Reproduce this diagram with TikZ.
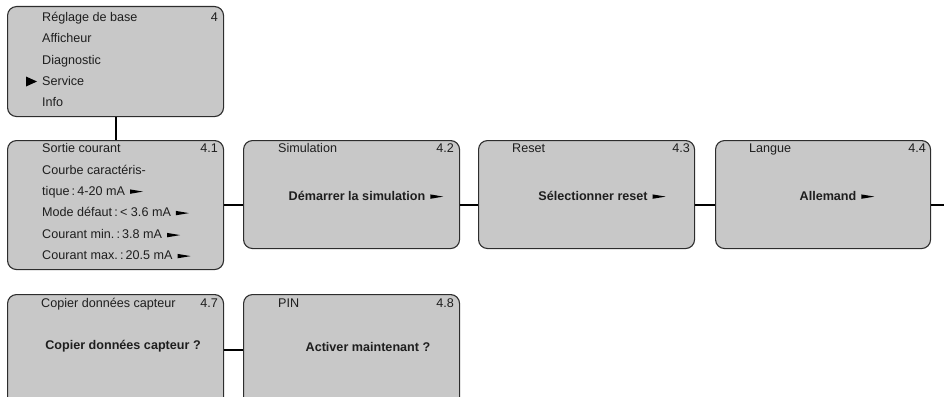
\documentclass[tikz,border=0pt]{standalone}
\usepackage{fontspec}
\setmainfont{Liberation Sans}
\definecolor{boxgray}{RGB}{200,200,200}
\definecolor{boxline}{RGB}{45,45,45}
\definecolor{txtcol}{RGB}{30,30,30}
\newcommand{\ptrsym}{\hspace{5pt}\tikz[baseline=0pt]\fill[black] (0pt,1.2pt) -- (13pt,3.4pt) -- (0pt,5.6pt) -- cycle;}
\newcommand{\cl}{\hspace{2.2pt}:\hspace{2.2pt}}
\begin{document}
\begin{tikzpicture}[x=1pt,y=-1pt,
  menubox/.style={draw=boxline,fill=boxgray,line width=1.1pt,rounded corners=9pt,anchor=north west,inner sep=0pt},
  conn/.style={line width=2pt,black},
  txt/.style={anchor=base west,inner sep=0pt,text=txtcol,font=\fontsize{12.6}{14}\selectfont},
  num/.style={anchor=base east,inner sep=0pt,text=txtcol,font=\fontsize{12.6}{14}\selectfont},
  btxt/.style={anchor=base,inner sep=0pt,text=txtcol,font=\fontsize{12.6}{14}\selectfont\bfseries}]
\useasboundingbox (0,0) rectangle (944,396);
\clip (0,0) rectangle (944,396);
% boxes
\node[menubox,minimum width=216pt,minimum height=110pt] (m) at (7,6) {};
\node[menubox,minimum width=216pt,minimum height=129pt] (s41) at (7,140) {};
\node[menubox,minimum width=216pt,minimum height=108pt] (s42) at (243,140) {};
\node[menubox,minimum width=216pt,minimum height=108pt] (s43) at (478,140) {};
\node[menubox,minimum width=215pt,minimum height=108pt] (s44) at (715,140) {};
\node[menubox,minimum width=216pt,minimum height=120pt] (s47) at (7,294) {};
\node[menubox,minimum width=216pt,minimum height=120pt] (s48) at (243,294) {};
% connectors
\coordinate (out) at (944,205);
\coordinate (row) at (0,205);
\coordinate (row2) at (0,350);
\draw[conn] (m.south) -- (s41.north);
\draw[conn] (s41.east |- row) -- (s42.west |- row);
\draw[conn] (s42.east |- row) -- (s43.west |- row);
\draw[conn] (s43.east |- row) -- (s44.west |- row);
\draw[conn] (s44.east |- row) -- (out);
\draw[conn] (s47.east |- row2) -- (s48.west |- row2);
% main menu
\node[txt] (m1) at (42,21.5) {Réglage de base};
\node[num] (mn) at (218,21.5) {4};
\node[txt] (m2) at (42,43) {Afficheur};
\node[txt] (m3) at (42,64) {Diagnostic};
\node[txt] (m4) at (42,85.5) {Service};
\node[txt] (m5) at (42,106) {Info};
\fill[black] (26,76.5) -- (37,81.5) -- (26,86.5) -- cycle;
% 4.1
\node[txt] (a1) at (42,152.5) {Sortie courant};
\node[num] (an) at (218,152.5) {4.1};
\node[txt] (a2) at (42,174.5) {Courbe caractéris-};
\node[txt] (a3) at (42,195) {tique\cl 4-20 mA\ptrsym};
\node[txt] (a4) at (42,216.5) {Mode défaut\cl < 3.6 mA\ptrsym};
\node[txt] (a5) at (42,238.5) {Courant min.\cl 3.8 mA\ptrsym};
\node[txt] (a6) at (42,259.5) {Courant max.\cl 20.5 mA\ptrsym};
% 4.2
\node[txt] (b1) at (278,152.5) {Simulation};
\node[num] (bn) at (454,152.5) {4.2};
\node[btxt] (b2) at (366,200) {Démarrer la simulation\ptrsym};
% 4.3
\node[txt] (c1) at (512,152.5) {Reset};
\node[num] (cn) at (690,152.5) {4.3};
\node[btxt] (c2) at (602,200) {Sélectionner reset\ptrsym};
% 4.4
\node[txt] (d1) at (749,152.5) {Langue};
\node[num] (dn) at (926,152.5) {4.4};
\node[btxt] (d2) at (837,200) {Allemand\ptrsym};
% 4.7
\node[txt] (e1) at (41,307.5) {Copier données capteur};
\node[num] (en) at (218,307.5) {4.7};
\node[btxt] (e2) at (123,349.5) {Copier données capteur ?};
% 4.8
\node[txt] (f1) at (278,307.5) {PIN};
\node[num] (fn) at (454,307.5) {4.8};
\node[btxt] (f2) at (368,351.5) {Activer maintenant ?};
\end{tikzpicture}
\end{document}
